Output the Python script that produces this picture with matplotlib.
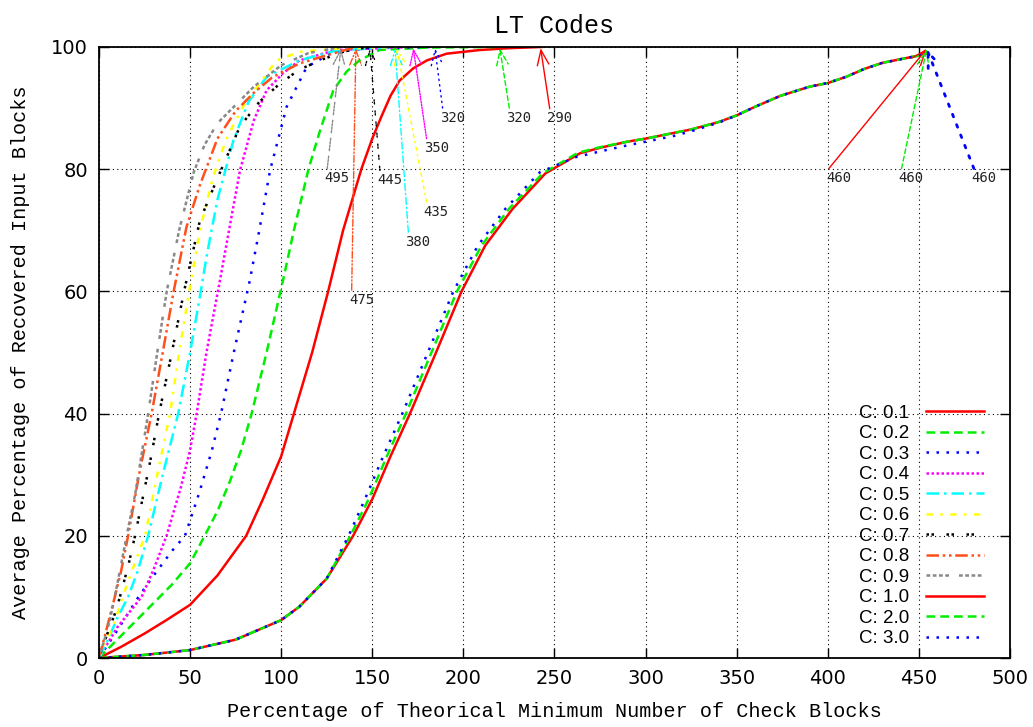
import matplotlib.pyplot as plt

# curves (x = % of theoretical minimum, y = % recovered)
x_c01 = [0, 12, 25, 37, 50, 65, 80.8, 90, 100, 107, 117, 125.8, 134, 144, 150, 155, 160, 165, 172.5, 180, 190.8, 209, 225, 243]
y_c01 = [0, 1.8, 4, 6.2, 8.7, 13.5, 20, 26, 33, 40, 50, 60, 70, 80, 85, 88.6, 92, 94.5, 96.5, 97.8, 98.9, 99.5, 99.8, 100]

x_c02 = [0, 10, 20, 30, 40, 50, 58, 65, 72, 78, 83.8, 92, 101, 107, 115, 121, 128.6, 136, 143, 154, 180, 220]
y_c02 = [0, 3, 6, 9, 12, 15.5, 20, 24, 29, 34, 40, 50, 61.8, 70, 80, 86, 92.9, 96, 97.8, 99.5, 99.9, 100]

x_c03 = [0, 10, 21.7, 30, 40, 47.2, 55, 62, 67, 74, 82.8, 88, 93.9, 103, 114, 128.5, 150, 184]
y_c03 = [0, 4.5, 10, 13.5, 17.5, 20, 27, 34, 40, 50, 61.8, 70, 79.8, 90.2, 96.7, 99.2, 99.8, 100]

x_c04 = [0, 10, 23.4, 30, 37.1, 45, 50, 53.6, 59, 66.4, 72, 77.4, 85, 92, 101, 110, 130, 172]
y_c04 = [0, 5, 10, 14.5, 20, 28, 34, 40, 50, 61.8, 71, 79.8, 88, 92.9, 95.7, 97.8, 99.5, 100]

x_c05 = [0, 5, 10, 16, 21, 27, 35, 43.5, 50, 55.9, 59, 65, 73.8, 82, 92, 110, 130, 162]
y_c05 = [0, 3, 6.5, 10, 14, 20, 30, 40, 50, 60, 65.6, 75, 84.7, 91, 95.1, 97.8, 99.4, 100]

x_c06 = [0, 5, 7.8, 13, 19, 25.3, 32, 39, 44, 49.5, 55.4, 62.6, 70, 79, 88, 97.5, 110, 130, 164]
y_c06 = [0, 3.5, 5.1, 10, 15, 20, 30, 40, 50, 60, 70, 78.7, 85, 90.2, 94, 97.8, 99.2, 99.7, 100]

x_c07 = [0, 4, 8.8, 11.5, 16, 19.8, 23.4, 28, 33, 40, 46.7, 55.4, 64.6, 77.4, 88, 99.3, 110, 123, 135, 148.7]
y_c07 = [0, 3.5, 7.3, 10, 15, 20, 25.3, 32, 40, 50, 60, 71.6, 78.2, 87, 91, 94, 96.3, 98, 99.3, 100]

x_c08 = [0, 4, 8.7, 12, 16, 22, 28.9, 35, 41, 48, 55.4, 60, 65, 75, 85, 95, 110, 124.7, 141]
y_c08 = [0, 4.5, 10, 14, 20, 30, 40, 50, 60, 70.5, 77.4, 81, 85, 89.5, 92.5, 95, 97.3, 98.6, 100]

x_c09 = [0, 3, 6, 10, 15.2, 20, 27, 32, 37.2, 44, 52, 58, 65, 75, 85, 100, 115, 133]
y_c09 = [0, 3, 6.2, 12, 20, 27, 40, 50, 60, 70, 79.5, 84, 87.5, 90.5, 93.5, 97, 99, 100]

x_c10 = [0, 25, 50, 75, 100, 110, 125, 139.5, 150, 160, 170.7, 185, 199, 212, 227, 245, 264, 275, 290, 300, 315, 325, 340, 350, 360, 374, 390, 400, 410, 420, 430, 440, 450, 454]
y_c10 = [0, 0.5, 1.3, 3, 6.2, 8.4, 13, 20, 26, 33, 40, 50, 60, 67.5, 73.5, 79.3, 82.6, 83.5, 84.5, 85, 85.9, 86.5, 87.7, 88.8, 90.2, 92, 93.5, 94.1, 95.1, 96.4, 97.4, 98, 98.6, 99.2]

x_c20 = [0, 25, 50, 75, 100, 110, 125, 138, 148, 158, 168.5, 182.5, 196.5, 210, 225, 243.5, 263, 275, 290, 300, 315, 325, 340, 350, 360, 374, 390, 400, 410, 420, 430, 440, 450, 454]
y_c20 = [0, 0.5, 1.3, 3, 6.2, 8.4, 13, 20, 26, 33, 40, 50, 60, 67.5, 73.5, 79.3, 82.7, 83.6, 84.5, 85, 85.9, 86.5, 87.7, 88.8, 90.2, 92, 93.5, 94.1, 95.1, 96.4, 97.4, 98, 98.6, 99.2]

x_c30 = [0, 25, 50, 75, 100, 110, 125, 137, 146, 156, 166.5, 180.5, 194.5, 208, 223, 242, 262, 275, 290, 300, 315, 325, 340, 350, 360, 374, 390, 400, 410, 420, 430, 440, 450, 454]
y_c30 = [0, 0.5, 1.3, 3, 6.2, 8.4, 13, 20, 26, 33, 40, 50, 60, 67.5, 73.5, 79.5, 82.0, 82.9, 83.9, 84.5, 85.4, 86.2, 87.6, 88.8, 90.2, 92, 93.5, 94.1, 95.1, 96.4, 97.4, 98, 98.6, 99.2]

labels = ['C: 0.1', 'C: 0.2', 'C: 0.3', 'C: 0.4', 'C: 0.5', 'C: 0.6',
          'C: 0.7', 'C: 0.8', 'C: 0.9', 'C: 1.0', 'C: 2.0', 'C: 3.0']

# annotation arrows: text, tail (where the text sits), tip (end of curve)
ann_text = ['290', '320', '320', '350', '380', '435', '445', '475', '495', '460', '460', '460']
ann_tail = [(247.4, 89.9), (225.2, 90), (188.6, 90), (179.8, 85), (169.8, 69.7), (179.8, 74.6),
            (154.2, 79.8), (138.7, 60.2), (125.3, 80.1), (400.6, 80.1), (440.5, 80.1), (480.2, 80.1)]
ann_tip = [(242.4, 99.8), (220, 99.8), (184.4, 99.8), (172.5, 99.8), (162.5, 99.8), (163.5, 99.8),
           (148.7, 99.8), (141, 99.8), (132.8, 99.8), (454.3, 99.7), (454.3, 99.7), (454.3, 99.7)]

xs = [x_c01, x_c02, x_c03, x_c04, x_c05, x_c06, x_c07, x_c08, x_c09, x_c10, x_c20, x_c30]
ys = [y_c01, y_c02, y_c03, y_c04, y_c05, y_c06, y_c07, y_c08, y_c09, y_c10, y_c20, y_c30]

colors = ['#ff0000', '#00ee00', '#0000ff', '#ff00ff', '#00ffff', '#ffff00',
          '#000000', '#ff4f1a', '#888888', '#ff0000', '#00ee00', '#0000ff']
dash = [None, (3.5, 2), (1, 3), (1, 1), (5, 2, 1, 2), (2.5, 3, 1, 3),
        (1, 1, 1, 5), (5, 1.5, 1, 1.5, 1, 1.5), (1.5, 1, 1.5, 1, 1.5, 1, 1.5, 4),
        None, (3.5, 2), (1, 3)]
arrow_lw = [1, 1, 1, 1, 1, 1, 1, 1, 1, 1, 1, 2]

fig = plt.figure(figsize=(10.33, 7.27), dpi=100)
ax = fig.add_axes([0.0958, 0.0949, 0.8819, 0.8405])

for i in range(len(xs)):
    line, = ax.plot(xs[i], ys[i], color=colors[i], lw=1.8, label=labels[i])
    if dash[i] is not None:
        line.set_dashes(dash[i])

for i in range(len(ann_text)):
    ls = '-' if dash[i] is None else (0, dash[i])
    ax.annotate('', xy=ann_tip[i], xytext=ann_tail[i],
                arrowprops=dict(arrowstyle='->,head_length=0.9,head_width=0.35',
                                color=colors[i], lw=arrow_lw[i], linestyle=ls,
                                shrinkA=0, shrinkB=0, mutation_scale=12))
    ax.annotate(ann_text[i], xy=ann_tail[i], xytext=(-2, -7), textcoords='offset points',
                ha='left', va='center', fontsize=10, family='DejaVu Sans Mono', color='#222222')

ax.set_xlim(0, 500)
ax.set_ylim(0, 100)
ax.set_xticks(range(0, 501, 50))
ax.set_yticks(range(0, 101, 20))
ax.grid(True, color='black', linestyle=(0, (1, 3)), linewidth=0.8)
ax.set_axisbelow(True)
ax.tick_params(direction='in', length=7, width=1, top=True, right=True, pad=8,
               labelsize=14)
for s in ax.spines.values():
    s.set_linewidth(1.3)

ax.set_title('LT Codes', family='Liberation Mono', fontsize=18, pad=10)
ax.set_xlabel('Percentage of Theorical Minimum Number of Check Blocks',
              family='Liberation Mono', fontsize=14.5, labelpad=10)
ax.set_ylabel('Average Percentage of Recovered Input Blocks',
              family='Liberation Mono', fontsize=14.5, labelpad=15)

ax.legend(loc='lower right', bbox_to_anchor=(0.982, 0.002), frameon=False,
          markerfirst=False, handlelength=3.1, labelspacing=0.18, borderpad=0,
          handletextpad=0.9, prop={'family': 'Liberation Sans', 'size': 13.5})

fig.savefig('out.png', dpi=100)
